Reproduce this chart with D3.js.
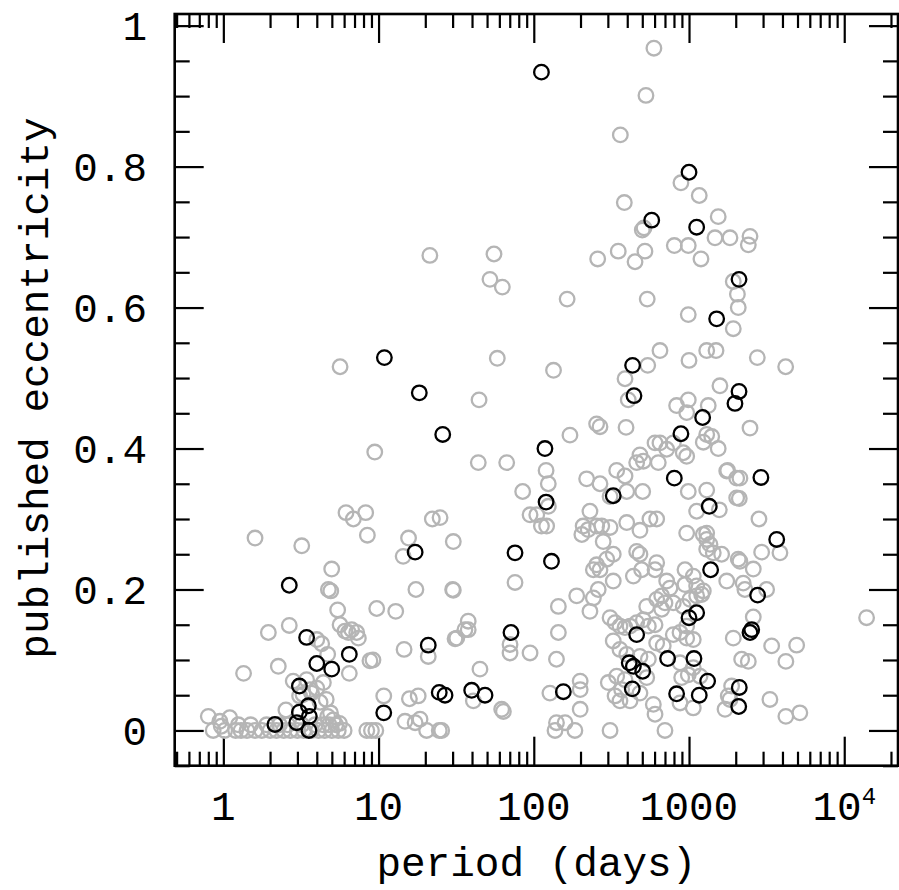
<!DOCTYPE html>
<html>
<head>
<meta charset="utf-8">
<script src="https://cdn.jsdelivr.net/npm/d3@7"></script>
<style>
  body { margin: 0; background: #fff; }
  svg text { font-family: "Liberation Mono", "DejaVu Sans Mono", monospace; fill: #000; }
</style>
</head>
<body>
<div id="chart"></div>
<script>
// ---------------- datos ----------------

// todos los planetas (circulos grises): periodo en dias, excentricidad
const grisPeriodo = [
  21.4, 5.65, 9.45, 6.17, 6.88, 8.26, 22.2, 1.6, 3.2, 8.47, 15.6, 30.3, 14.4, 4.99, 4.75, 4.92, 17.4, 30.3,
  5.45, 9.73, 12.9, 2.66, 1.95, 5.65, 6.08, 6.71, 7.23, 6.39, 7.41, 4.0, 4.3, 4.7, 31.1, 20.9, 14.6, 8.8, 9.2,
  2.26, 1.35, 6.48, 2.82, 3.44, 3.62, 3.26, 4.41, 10.8, 15.8, 18.0, 4.2, 2.53, 0.80, 0.95, 1.10, 0.86, 0.97,
  8.4, 9.0, 9.6, 14.8, 17.2, 18.5, 20.4, 24.6, 3.7, 4.0, 4.6, 3.1, 4.7, 5.1, 5.6, 4.9,
  1.02, 1.2, 1.3, 1.42, 1.6, 1.77, 2.0, 2.2, 2.45, 2.7, 3.0, 3.3, 3.7, 4.1, 4.5, 5.0, 5.5, 6.0,
  1.25, 1.5, 1.9, 2.3, 2.6, 3.2, 3.9, 4.4, 4.8, 5.3,
  594, 528, 361, 887, 1164, 383, 1542, 500, 513, 1470, 1836, 804, 989, 1194, 350, 258, 520, 449, 55.4, 52.2,
  62.7, 1928, 2050, 164, 538, 989, 1928, 58.2, 134, 650, 1000, 1300, 1493, 542, 387, 406, 1582, 44.4, 832,
  989, 966, 1330, 1300, 1236, 1542, 1400, 254, 267, 393, 171, 43.9, 66.9, 120, 124, 84.8, 104.5, 112, 121,
  604, 650, 718, 792, 918, 966, 483, 508, 460, 634, 342, 387, 267, 219, 310, 397, 503, 989, 1300, 1567, 1120,
  1750, 2028, 2028, 230, 208, 254, 310, 483, 560, 619, 966, 1300, 94.6, 124, 24.9,
  2471, 2410, 2076, 2754, 4195, 2471, 1774, 2128, 2108, 2822,
  30, 75.7, 204, 224, 274, 280, 397, 1236, 1300, 1365, 1300, 1433, 1622, 325, 295, 267, 242, 254, 460, 483,
  619, 604, 438, 495, 325, 718, 754, 942, 1065, 1120, 1236, 942, 1750, 2076, 189, 242, 230, 260, 144, 144, 140,
  534, 619, 667, 700, 667, 792, 918, 1014, 1120, 1206, 310, 334, 359, 387, 417, 460, 508, 547, 604, 792, 875,
  966, 1065, 966, 1928, 325, 359, 397, 483, 547, 619, 682, 875, 1065, 1177, 989, 897, 302, 342, 387, 368, 334,
  417, 359, 534, 483, 589, 604, 700, 310, 1065, 875, 1706, 1836, 37.8, 36, 31.9, 37.8, 70.3, 70.3, 94.6, 45,
  199, 199, 199, 127, 140, 159, 184, 137, 62.1, 63.7, 25.5, 40.8,
  2937, 3853, 2128, 2594, 2234, 2291, 3162, 2594, 2183, 2410, 3407, 4936, 4207, 13930, 1882, 1790, 3320, 4207, 5176
];
const grisExc = [
  0.674, 0.516, 0.395, 0.309, 0.300, 0.309, 0.300, 0.273, 0.262, 0.277, 0.273, 0.268, 0.247, 0.229, 0.200, 0.198, 0.200, 0.199,
  0.171, 0.173, 0.169, 0.149, 0.139, 0.150, 0.141, 0.143, 0.139, 0.139, 0.131, 0.129, 0.123, 0.108, 0.130, 0.105, 0.115, 0.099, 0.100,
  0.091, 0.081, 0.081, 0.070, 0.072, 0.058, 0.051, 0.068, 0.049, 0.045, 0.049, 0.040, 0.029, 0.020, 0.013, 0.018, 0.0, 0.006,
  0.0, 0.0, 0.0, 0.013, 0.011, 0.016, 0.0, 0.0, 0.053, 0.060, 0.044, 0.049, 0.020, 0.015, 0.010, 0.025,
  0, 0, 0, 0, 0, 0, 0, 0, 0, 0, 0, 0, 0, 0, 0, 0, 0, 0,
  0.008, 0.008, 0.008, 0.008, 0.008, 0.008, 0.008, 0.008, 0.008, 0.008,
  0.968, 0.901, 0.845, 0.777, 0.759, 0.749, 0.729, 0.710, 0.713, 0.699, 0.699, 0.688, 0.688, 0.669, 0.680, 0.669, 0.680, 0.665, 0.676, 0.640,
  0.629, 0.637, 0.619, 0.612, 0.612, 0.590, 0.570, 0.528, 0.511, 0.539, 0.525, 0.539, 0.539, 0.518, 0.499, 0.469, 0.489, 0.469, 0.461,
  0.469, 0.451, 0.461, 0.420, 0.409, 0.400, 0.417, 0.435, 0.431, 0.430, 0.419, 0.380, 0.380, 0.369, 0.350, 0.339, 0.306, 0.290, 0.290,
  0.408, 0.408, 0.399, 0.408, 0.394, 0.389, 0.391, 0.382, 0.380, 0.380, 0.369, 0.361, 0.350, 0.357, 0.332, 0.339, 0.339, 0.339, 0.341, 0.313, 0.311,
  0.368, 0.358, 0.330, 0.311, 0.290, 0.290, 0.288, 0.284, 0.300, 0.300, 0.280, 0.280, 0.306, 0.318, 0.302,
  0.701, 0.689, 0.600, 0.529, 0.516, 0.429, 0.369, 0.358, 0.329, 0.300,
  0.200, 0.210, 0.278, 0.285, 0.290, 0.268, 0.295, 0.278, 0.271, 0.264, 0.257, 0.252, 0.250, 0.250, 0.243, 0.228, 0.228, 0.235, 0.254, 0.250,
  0.238, 0.228, 0.219, 0.228, 0.212, 0.212, 0.202, 0.228, 0.219, 0.205, 0.198, 0.207, 0.212, 0.243, 0.191, 0.188, 0.169, 0.200, 0.176, 0.139, 0.101,
  0.176, 0.186, 0.191, 0.181, 0.172, 0.181, 0.176, 0.186, 0.191, 0.193, 0.160, 0.153, 0.148, 0.146, 0.148, 0.153, 0.157, 0.148, 0.150, 0.136, 0.139,
  0.131, 0.129, 0.148, 0.131, 0.127, 0.115, 0.108, 0.105, 0.101, 0.124, 0.120, 0.096, 0.089, 0.077, 0.079, 0.075, 0.068, 0.077, 0.072, 0.058, 0.049,
  0.042, 0.042, 0.075, 0.053, 0.037, 0.023, 0.0, 0.0, 0.032, 0.039, 0.030, 0.044, 0.155, 0.143, 0.131, 0.143, 0.122, 0.110, 0.110, 0.087,
  0.070, 0.058, 0.030, 0.053, 0.011, 0.011, 0.0, 0.0, 0.030, 0.027, 0.0, 0.042,
  0.253, 0.252, 0.240, 0.229, 0.209, 0.200, 0.200, 0.161, 0.101, 0.098, 0.120, 0.121, 0.098, 0.160, 0.063, 0.049, 0.044, 0.020, 0.025
];

// planetas resaltados (circulos negros)
const negroPeriodo = [
  112, 1000, 575, 1120, 2100, 1507, 433, 442, 2100, 1977, 1224, 887, 118, 10.9, 18.3, 25.9, 2905, 804, 325, 120,
  1350, 3673, 75.7, 17.2, 130, 1378, 2.66, 2767, 1120, 1000, 2535, 2471, 460, 71.3, 3.44, 20.9, 6.48, 728, 1076,
  4.0, 412, 438, 503, 4.99, 1318, 3.09, 2108, 431, 24.6, 26.8, 39.8, 48.5, 155, 832, 1164, 2090, 3.53, 3.09,
  3.58, 2.97, 2.15, 3.56, 10.8
];
const negroExc = [
  0.934, 0.792, 0.724, 0.714, 0.640, 0.584, 0.518, 0.475, 0.481, 0.464, 0.444, 0.421, 0.400, 0.529, 0.479, 0.420, 0.359, 0.358, 0.333, 0.324,
  0.318, 0.271, 0.252, 0.253, 0.240, 0.228, 0.206, 0.192, 0.167, 0.160, 0.143, 0.139, 0.136, 0.139, 0.132, 0.121, 0.108, 0.102, 0.102,
  0.095, 0.096, 0.091, 0.084, 0.087, 0.070, 0.063, 0.061, 0.059, 0.054, 0.050, 0.057, 0.050, 0.055, 0.052, 0.050, 0.034, 0.035, 0.026,
  0.020, 0.011, 0.0085, 0.0, 0.025
];

// ticks
const xMayores = [1, 10, 100, 1000, 10000];
const xEtiquetas = ["1", "10", "100", "1000", "10⁴"];
const yMayores = [0, 0.2, 0.4, 0.6, 0.8, 1];
const yEtiquetas = ["0", "0.2", "0.4", "0.6", "0.8", "1"];

// ---------------- graficacion ----------------

const ancho = 899, alto = 890;
const margen = { left: 174.7, right: 1, top: 14, bottom: 124.3 };

const svg = d3.select("#chart").append("svg")
  .attr("width", ancho).attr("height", alto);

const xScale = d3.scaleLog()
  .domain([0.486, 22200])
  .range([margen.left, ancho - margen.right]);

const yScale = d3.scaleLinear()
  .domain([-0.05, 1.0165])
  .range([alto - margen.bottom, margen.top]);

// ticks menores del eje log
const xMenores = [];
for (let dec = -1; dec <= 4; dec++) {
  for (let m = 2; m <= 9; m++) {
    const v = m * Math.pow(10, dec);
    if (v > xScale.domain()[0] && v < xScale.domain()[1]) xMenores.push(v);
  }
}
const yMenores = d3.range(-0.05, 1.01, 0.05).map(v => +v.toFixed(2))
  .filter(v => !yMayores.some(m => Math.abs(m - v) < 1e-6));

const x0 = margen.left, x1 = ancho - margen.right;
const y0 = alto - margen.bottom, y1 = margen.top;

function ejes(g, axis, valores, largo) {
  g.call(axis.tickValues(valores).tickSize(-largo).tickFormat(""))
  g.select(".domain").remove();
  g.selectAll(".tick line").attr("stroke", "#000").attr("stroke-width", 2.2);
}

// abajo y arriba
ejes(svg.append("g").attr("transform", `translate(0,${y0})`), d3.axisBottom(xScale), xMenores, 14);
ejes(svg.append("g").attr("transform", `translate(0,${y0})`), d3.axisBottom(xScale), xMayores, 29);
ejes(svg.append("g").attr("transform", `translate(0,${y1})`), d3.axisTop(xScale), xMenores, 14);
ejes(svg.append("g").attr("transform", `translate(0,${y1})`), d3.axisTop(xScale), xMayores, 29);
// izquierda y derecha
ejes(svg.append("g").attr("transform", `translate(${x0},0)`), d3.axisLeft(yScale), yMenores, 15);
ejes(svg.append("g").attr("transform", `translate(${x0},0)`), d3.axisLeft(yScale), yMayores, 29);
ejes(svg.append("g").attr("transform", `translate(${x1},0)`), d3.axisRight(yScale), yMenores, 15);
ejes(svg.append("g").attr("transform", `translate(${x1},0)`), d3.axisRight(yScale), yMayores, 29);

// marco
svg.append("rect")
  .attr("x", x0).attr("y", y1)
  .attr("width", x1 - x0).attr("height", y0 - y1)
  .attr("fill", "none").attr("stroke", "#000").attr("stroke-width", 2.6);

// etiquetas de ticks
const tamLetra = 41;
const etX = svg.append("g");
xMayores.forEach((v, i) => {
  const t = etX.append("text")
    .attr("x", xScale(v)).attr("y", 820)
    .attr("text-anchor", "middle")
    .attr("font-size", tamLetra);
  if (i === xMayores.length - 1) {
    t.append("tspan").text("10");
    t.append("tspan").attr("font-size", 24).attr("dy", -16).text("4");
  } else {
    t.text(xEtiquetas[i]);
  }
});

const etY = svg.append("g");
yMayores.forEach((v, i) => {
  etY.append("text")
    .attr("x", 147).attr("y", yScale(v))
    .attr("dy", "0.36em")
    .attr("text-anchor", "end")
    .attr("font-size", tamLetra)
    .text(yEtiquetas[i]);
});

// titulos de ejes
svg.append("text")
  .attr("x", (x0 + x1) / 2).attr("y", 876)
  .attr("text-anchor", "middle")
  .attr("font-size", tamLetra)
  .text("period (days)");

svg.append("text")
  .attr("transform", `translate(48,388) rotate(-90)`)
  .attr("text-anchor", "middle")
  .attr("font-size", tamLetra)
  .text("published eccentricity");

// puntos
const grises = grisPeriodo.map((p, i) => ({ p: p, e: grisExc[i] }));
const negros = negroPeriodo.map((p, i) => ({ p: p, e: negroExc[i] }));

svg.append("g").selectAll("circle")
  .data(grises)
  .enter()
  .append("circle")
  .attr("cx", d => xScale(d.p))
  .attr("cy", d => yScale(d.e))
  .attr("r", 7.3)
  .attr("fill", "none")
  .attr("stroke", "#b5b5b5")
  .attr("stroke-width", 2.3);

svg.append("g").selectAll("circle")
  .data(negros)
  .enter()
  .append("circle")
  .attr("cx", d => xScale(d.p))
  .attr("cy", d => yScale(d.e))
  .attr("r", 7.3)
  .attr("fill", "none")
  .attr("stroke", "#000")
  .attr("stroke-width", 2.3);
</script>
</body>
</html>
